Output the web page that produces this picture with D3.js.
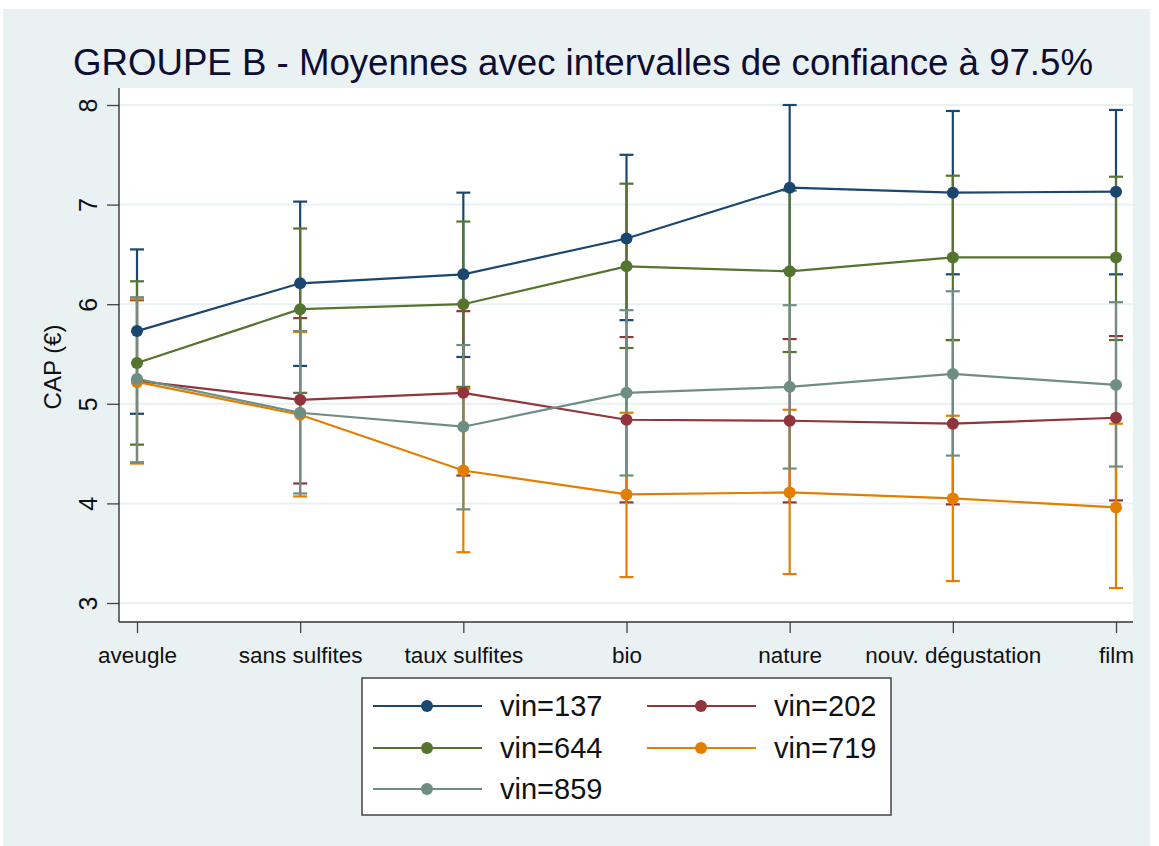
<!DOCTYPE html>
<html><head><meta charset="utf-8">
<script src="https://cdn.jsdelivr.net/npm/d3@7"></script>
<style>body{margin:0;background:#fff;}svg{display:block;font-family:"Liberation Sans",Arial,sans-serif;}</style>
</head><body>
<svg id="chart" width="1159" height="846"></svg>
<script>
const categories = ["aveugle","sans sulfites","taux sulfites","bio","nature","nouv. dégustation","film"];
const seriesNames = ["vin=137","vin=202","vin=644","vin=719","vin=859"];
const seriesColors = ["#1a476f","#90353b","#55752f","#e37e00","#6e8e84"];
// means
const mean137 = [5.73,6.21,6.30,6.66,7.17,7.12,7.13];
const mean202 = [5.23,5.04,5.11,4.84,4.83,4.80,4.86];
const mean644 = [5.41,5.95,6.00,6.38,6.33,6.47,6.47];
const mean719 = [5.22,4.89,4.33,4.09,4.11,4.05,3.96];
const mean859 = [5.25,4.91,4.77,5.11,5.17,5.30,5.19];
// lower CI bounds
const lo137 = [4.90,5.38,5.47,5.84,6.34,6.30,6.30];
const lo202 = [4.41,4.20,4.28,4.01,4.01,3.99,4.03];
const lo644 = [4.59,5.11,5.17,5.56,5.52,5.64,5.64];
const lo719 = [4.40,4.07,3.51,3.26,3.29,3.22,3.15];
const lo859 = [4.41,4.10,3.94,4.28,4.35,4.48,4.37];
// upper CI bounds
const hi137 = [6.55,7.03,7.12,7.50,8.00,7.94,7.95];
const hi202 = [6.04,5.86,5.93,5.67,5.65,5.64,5.68];
const hi644 = [6.23,6.76,6.83,7.21,7.14,7.29,7.28];
const hi719 = [6.05,5.72,5.15,4.91,4.94,4.88,4.80];
const hi859 = [6.07,5.73,5.59,5.94,5.99,6.13,6.02];
const yTicks = [3,4,5,6,7,8];
const titleText = "GROUPE B - Moyennes avec intervalles de confiance à 97.5%";
const yTitle = "CAP (€)";

const means=[mean137,mean202,mean644,mean719,mean859];
const los=[lo137,lo202,lo644,lo719,lo859];
const his=[hi137,hi202,hi644,hi719,hi859];
const series = seriesNames.map((n,i)=>({name:n,color:seriesColors[i],
  pts:categories.map((c,j)=>({c,m:means[i][j],lo:los[i][j],hi:his[i][j]}))}));

const svg=d3.select("#chart");
// background
svg.append("rect").attr("x",3).attr("y",9).attr("width",1147).attr("height",837).attr("fill","#e9f1f3");
const plot={l:119,r:1133,t:88,b:622};
svg.append("rect").attr("x",plot.l).attr("y",plot.t).attr("width",plot.r-plot.l).attr("height",plot.b-plot.t).attr("fill","#fff");

const x=d3.scalePoint().domain(categories).range([137,1116]);
const y=d3.scaleLinear().domain([3,8]).range([603,105]);

// gridlines
svg.append("g").selectAll("line").data(yTicks).join("line")
  .attr("x1",plot.l).attr("x2",plot.r).attr("y1",d=>y(d)).attr("y2",d=>y(d))
  .attr("stroke","#e9f1f3").attr("stroke-width",2);

// y axis
const ya=svg.append("g").attr("transform",`translate(${plot.l},0)`)
  .call(d3.axisLeft(y).tickValues(yTicks).tickSize(12).tickPadding(0).tickFormat(d3.format("d")));
ya.select(".domain").remove();
ya.selectAll(".tick line").attr("stroke","#444").attr("stroke-width",1.3);
ya.selectAll(".tick text").attr("font-size",25).attr("fill","#111")
  .attr("text-anchor","middle").attr("x",0).attr("dy",0)
  .attr("transform","translate(-22,0) rotate(-90)");
svg.append("line").attr("x1",plot.l).attr("x2",plot.l).attr("y1",plot.t).attr("y2",plot.b).attr("stroke","#333").attr("stroke-width",1.4);

// x axis
const xa=svg.append("g").attr("transform",`translate(0,${plot.b})`)
  .call(d3.axisBottom(x).tickSize(11).tickPadding(14));
xa.select(".domain").remove();
xa.selectAll(".tick line").attr("stroke","#444").attr("stroke-width",1.3);
xa.selectAll(".tick text").attr("font-size",22.5).attr("fill","#111");
svg.append("line").attr("x1",plot.l).attr("x2",plot.r).attr("y1",plot.b).attr("y2",plot.b).attr("stroke","#333").attr("stroke-width",1.4);

// CIs
series.forEach(s=>{
  const g=svg.append("g").attr("stroke",s.color).attr("stroke-width",2.2);
  g.selectAll(".v").data(s.pts).join("line").attr("x1",d=>x(d.c)).attr("x2",d=>x(d.c)).attr("y1",d=>y(d.lo)).attr("y2",d=>y(d.hi));
  g.selectAll(".h").data(s.pts).join("line").attr("x1",d=>x(d.c)-7).attr("x2",d=>x(d.c)+7).attr("y1",d=>y(d.hi)).attr("y2",d=>y(d.hi));
  g.selectAll(".l").data(s.pts).join("line").attr("x1",d=>x(d.c)-7).attr("x2",d=>x(d.c)+7).attr("y1",d=>y(d.lo)).attr("y2",d=>y(d.lo));
});
// lines + markers
const line=d3.line().x(d=>x(d.c)).y(d=>y(d.m));
series.forEach(s=>{
  svg.append("path").datum(s.pts).attr("d",line).attr("fill","none").attr("stroke",s.color).attr("stroke-width",2.2);
  svg.append("g").selectAll("circle").data(s.pts).join("circle").attr("cx",d=>x(d.c)).attr("cy",d=>y(d.m)).attr("r",6).attr("fill",s.color);
});

// title
svg.append("text").attr("x",73).attr("y",75).attr("font-size",37).attr("fill","#0d0d33")
  .attr("textLength",1020).attr("lengthAdjust","spacingAndGlyphs").text(titleText);
// y title
svg.append("text").attr("transform",`translate(61,367) rotate(-90)`).attr("text-anchor","middle")
  .attr("font-size",24).attr("fill","#111").text(yTitle);

// legend
const lg=svg.append("g");
lg.append("rect").attr("x",362).attr("y",678).attr("width",529).attr("height",137).attr("fill","#fff").attr("stroke","#444").attr("stroke-width",1.5);
const legPos=[[373,706],[647,706],[373,748],[647,748],[373,789]];
series.forEach((s,i)=>{
  const [lx,ly]=legPos[i];
  lg.append("line").attr("x1",lx).attr("x2",lx+109).attr("y1",ly).attr("y2",ly).attr("stroke",s.color).attr("stroke-width",2.2);
  lg.append("circle").attr("cx",lx+54).attr("cy",ly).attr("r",6).attr("fill",s.color);
  lg.append("text").attr("x",lx+127).attr("y",ly+10).attr("font-size",29).attr("fill","#111").text(s.name);
});
</script>
</body></html>
